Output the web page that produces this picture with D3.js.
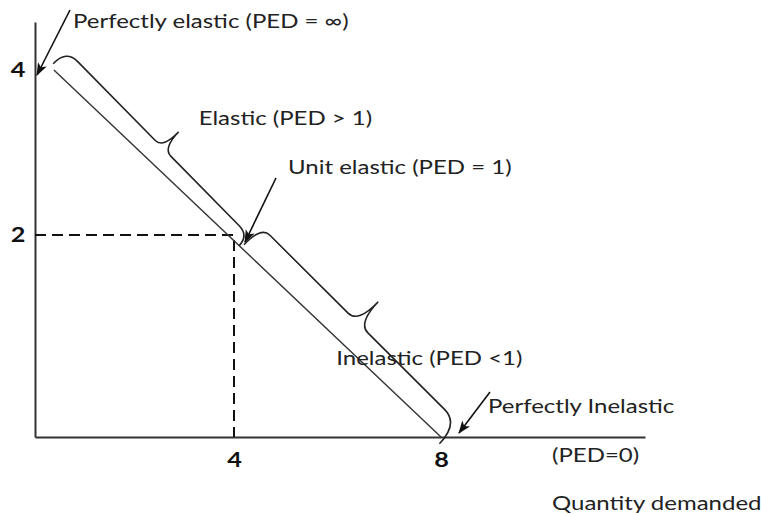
<!DOCTYPE html>
<html>
<head>
<meta charset="utf-8">
<script src="https://cdn.jsdelivr.net/npm/d3@7"></script>
<style>
  html, body { margin: 0; padding: 0; background: #fff; }
  svg { display: block; }
  .note { font-family: Lato, "Noto Sans", sans-serif; font-size: 20px; fill: #222; }
  .tick text { font-family: Lato, "Liberation Sans", sans-serif; font-weight: 700; font-size: 21px; fill: #111; }
</style>
</head>
<body>
<svg id="chart" width="761" height="514"></svg>
<script>
// Linear demand curve: price falls from 4 to 0 as quantity rises to 8
const demandQ = [0.38, 8];
const demandP = [4, 0];
// Unit-elastic midpoint of the curve
const unitQ = 4;
const unitP = 2;
// Quantity range covered by each brace (elastic / inelastic stretch)
const braceQ = [[0.31, 4.1], [4.14, 8.05]];
const xTicks = [4, 8];
const yTicks = [2, 4];

// Lettering is set slightly wide
const STRETCH = 1.2;

const svg = d3.select("#chart");
svg.append("rect").attr("width", 761).attr("height", 514).attr("fill", "#fff");

const x = d3.scaleLinear().domain([0, 4, 8, 12]).range([35, 234, 441, 645]);
const y = d3.scaleLinear().domain([0, 2, 4, 4.6]).range([437, 235, 70, 22]);

// Arrowhead marker
svg.append("defs").append("marker")
  .attr("id", "head")
  .attr("viewBox", "0 0 12 10")
  .attr("refX", 11).attr("refY", 5)
  .attr("markerWidth", 13).attr("markerHeight", 11)
  .attr("markerUnits", "userSpaceOnUse")
  .attr("orient", "auto")
  .append("path")
  .attr("d", "M0,0.5 L12,5 L0,9.5 L3,5 Z")
  .attr("fill", "#111");

// Axes
const gx = svg.append("g")
  .attr("transform", `translate(0,${y(0)})`)
  .call(d3.axisBottom(x).tickValues(xTicks).tickSize(0).tickPadding(15).tickFormat(d3.format("d")));
const gy = svg.append("g")
  .attr("transform", `translate(${x(0)},0)`)
  .call(d3.axisLeft(y).tickValues(yTicks).tickSize(0).tickPadding(8).tickFormat(d3.format("d")));
[gx, gy].forEach(g => {
  g.attr("font-family", null).attr("font-size", null);
  g.select(".domain").attr("stroke", "#333").attr("stroke-width", 2);
  g.selectAll(".tick text").attr("transform", `scale(${STRETCH},1)`);
});

const line = d3.line().x(d => x(d[0])).y(d => y(d[1]));

// Dashed guides to the unit-elastic point
svg.append("path")
  .attr("d", line([[0, unitP], [unitQ, unitP], [unitQ, 0]]))
  .attr("fill", "none").attr("stroke", "#111")
  .attr("stroke-width", 2).attr("stroke-dasharray", "11,6");

// Demand curve
const demand = demandQ.map((q, i) => [q, demandP[i]]);
svg.append("path")
  .attr("d", line(demand))
  .attr("fill", "none").attr("stroke", "#333").attr("stroke-width", 1.4);

// Braces drawn in a frame aligned with the demand curve
const A = [x(demand[0][0]), y(demand[0][1])];
const B = [x(demand[1][0]), y(demand[1][1])];
const L = Math.hypot(B[0] - A[0], B[1] - A[1]);
const u = [(B[0] - A[0]) / L, (B[1] - A[1]) / L];
const n = [u[1], -u[0]];
const pt = (t, s) => [A[0] + u[0] * t + n[0] * s, A[1] + u[1] * t + n[1] * s];
const tOf = q => (x(q) - A[0]) / (B[0] - A[0]) * L;

const braceStyle = [
  { s0: 4, s1: 0, d0: 23, d1: 14, h: 41, tf: 0.53, r0: 16, r1: 14, rc: 11 },
  { s0: 4, s1: -6, d0: 29, d1: 22, h: 55, tf: 0.49, r0: 12, r1: 20, rc: 14 }
];

function bracePath(span, st) {
  const t0 = tOf(span[0]), t1 = tOf(span[1]);
  const tc = t0 + (t1 - t0) * st.tf;
  const dAt = t => st.d0 + (st.d1 - st.d0) * (t - t0) / (t1 - t0);
  const p = d3.path();
  p.moveTo(...pt(t0, st.s0));
  p.quadraticCurveTo(...pt(t0, dAt(t0)), ...pt(t0 + st.r0, dAt(t0 + st.r0)));
  p.lineTo(...pt(tc - st.rc, dAt(tc - st.rc)));
  p.quadraticCurveTo(...pt(tc, dAt(tc)), ...pt(tc, st.h));
  p.quadraticCurveTo(...pt(tc, dAt(tc)), ...pt(tc + st.rc, dAt(tc + st.rc)));
  p.lineTo(...pt(t1 - st.r1, dAt(t1 - st.r1)));
  p.quadraticCurveTo(...pt(t1, dAt(t1)), ...pt(t1, st.s1));
  return { d: p.toString(), tip: pt(tc, st.h) };
}

const braceTips = braceQ.map((span, i) => {
  const b = bracePath(span, braceStyle[i]);
  svg.append("path").attr("d", b.d)
    .attr("fill", "none").attr("stroke", "#222").attr("stroke-width", 1.6);
  return b.tip;
});

// Pointer arrows: tip near a point of the curve, tail offset from it
const arrows = [
  { at: [0, 4], tipOff: [2, 5], tail: [33, -65] },
  { at: [unitQ, unitP], tipOff: [11, 7], tail: [31, -64] },
  { at: [8, 0], tipOff: [18, -4], tail: [31, -41] }
];
const tails = arrows.map(a => {
  const tip = [x(a.at[0]) + a.tipOff[0], y(a.at[1]) + a.tipOff[1]];
  const tail = [tip[0] + a.tail[0], tip[1] + a.tail[1]];
  svg.append("line")
    .attr("x1", tail[0]).attr("y1", tail[1])
    .attr("x2", tip[0]).attr("y2", tip[1])
    .attr("stroke", "#111").attr("stroke-width", 1.6)
    .attr("marker-end", "url(#head)");
  return tail;
});

// Annotations
const axisEnd = [x(12), y(0)];
const notes = [
  { text: "Perfectly elastic (PED = ∞)", from: tails[0], off: [3, 18] },
  { text: "Elastic (PED > 1)", from: braceTips[0], off: [20, -7] },
  { text: "Unit elastic (PED = 1)", from: tails[1], off: [12, -4] },
  { text: "Inelastic (PED <1)", from: braceTips[1], off: [-42, 63] },
  { text: "Perfectly Inelastic", from: tails[2], off: [-2, 21] },
  { text: "(PED=0)", from: axisEnd, off: [-93, 25] },
  { text: "Quantity demanded", from: axisEnd, off: [-93, 73] }
];
svg.selectAll("text.note").data(notes).join("text")
  .attr("class", "note")
  .attr("transform", d => `translate(${d.from[0] + d.off[0]},${d.from[1] + d.off[1]}) scale(${STRETCH},1)`)
  .text(d => d.text);
</script>
</body>
</html>
